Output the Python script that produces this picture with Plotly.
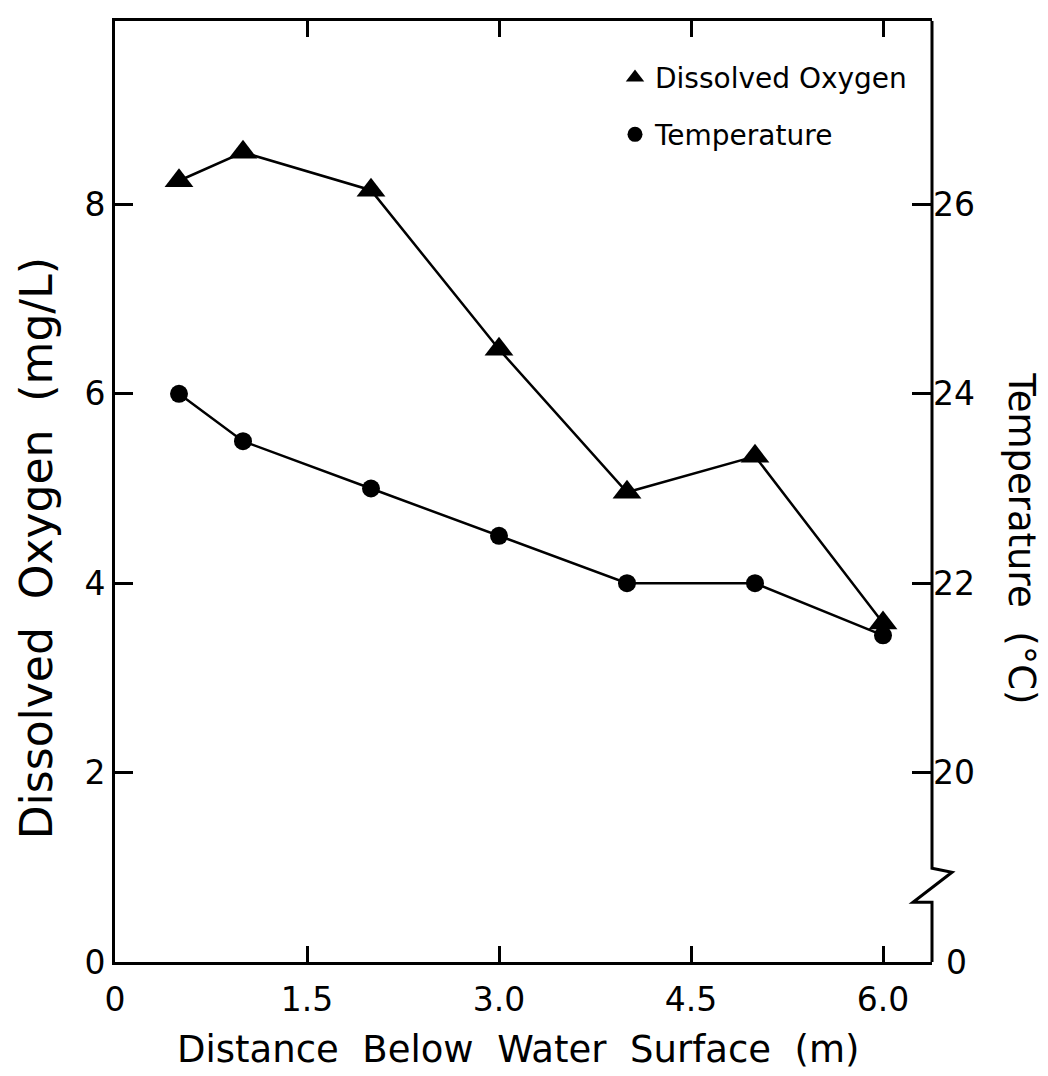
import plotly.graph_objects as go

depth = [0.5, 1.0, 2.0, 3.0, 4.0, 5.0, 6.0]
dissolved_oxygen = [8.25, 8.55, 8.15, 6.47, 4.96, 5.34, 3.58]
temperature = [24.0, 23.5, 23.0, 22.5, 22.0, 22.0, 21.45]

x_tickvals = [0, 1.5, 3.0, 4.5, 6.0]
x_ticktext = ["0", "1.5", "3.0", "4.5", "6.0"]
do_tickvals = [0, 2, 4, 6, 8]
temp_tickvals = [20, 22, 24, 26]

FONT = "DejaVu Sans"
OFF = 8  # page body margin
W, H = 1048 - OFF, 1076 - OFF
L, R, T, B = 115, 932, 18, 962  # plot area in reference pixels

def px(x):
    return (x - L) / (R - L)

def py(y):
    return (B - y) / (B - T)

fig = go.Figure()
fig.add_trace(go.Scatter(x=depth, y=dissolved_oxygen, mode="lines+markers",
                         line=dict(color="black", width=2.5),
                         marker=dict(symbol="triangle-up", size=25, color="black"),
                         showlegend=False, cliponaxis=False))
fig.add_trace(go.Scatter(x=depth, y=temperature, mode="lines+markers", yaxis="y2",
                         line=dict(color="black", width=2.5),
                         marker=dict(symbol="circle", size=18, color="black"),
                         showlegend=False, cliponaxis=False))
# legend entries (markers only)
fig.add_trace(go.Scatter(x=[None], y=[None], mode="markers", name="Dissolved Oxygen",
                         marker=dict(symbol="triangle-up", size=18, color="black"),
                         legend="legend"))
fig.add_trace(go.Scatter(x=[None], y=[None], mode="markers", name="Temperature",
                         marker=dict(symbol="circle", size=15, color="black"),
                         legend="legend2"))

axis_font = dict(family=FONT, size=33, color="black")

fig.update_layout(
    width=W, height=H,
    margin=dict(l=L - OFF, r=W - (R - OFF), t=T - OFF, b=H - (B - OFF)),
    plot_bgcolor="white", paper_bgcolor="white",
    font=dict(family=FONT, color="black"),
    xaxis=dict(range=[0, (R - L) / 128.0], tickvals=x_tickvals, ticktext=x_ticktext,
               ticks="inside", ticklen=16, tickwidth=2.5, tickcolor="black",
               showline=True, linecolor="black", linewidth=3, mirror="ticks",
               showgrid=False, zeroline=False, tickfont=axis_font,
               ticklabelstandoff=6),
    yaxis=dict(range=[0, (B - T) / 95.0], tickvals=do_tickvals,
               ticks="inside", ticklen=18, tickwidth=2.5, tickcolor="black",
               showline=True, linecolor="black", linewidth=3, mirror=False,
               showgrid=False, zeroline=False, tickfont=axis_font),
    yaxis2=dict(range=[18, 18 + (B - T) / 95.0], tickvals=temp_tickvals,
                overlaying="y", side="right",
                ticks="inside", ticklen=20, tickwidth=2.5, tickcolor="black",
                showline=False, showgrid=False, zeroline=False, tickfont=axis_font),
    legend=dict(x=px(615), y=py(75), xanchor="left", yanchor="middle",
                font=dict(family=FONT, size=28), bgcolor="rgba(0,0,0,0)"),
    legend2=dict(x=px(615), y=py(132), xanchor="left", yanchor="middle",
                 font=dict(family=FONT, size=28), bgcolor="rgba(0,0,0,0)"),
)

# right axis line with break
pts = [(R, T), (R, 868), (952, 872), (913, 902), (R, 902), (R, B)]
path = "M " + " L ".join(f"{px(x)},{py(y)}" for x, y in pts)
fig.add_shape(type="path", path=path, xref="paper", yref="paper",
              line=dict(color="black", width=3))

# right axis "0" label
fig.add_annotation(x=px(944), y=py(962), xref="paper", yref="paper", text="0",
                   showarrow=False, xanchor="left", yanchor="middle", font=axis_font)

# axis titles
fig.add_annotation(x=px(36), y=py(547), xref="paper", yref="paper",
                   text="Dissolved  Oxygen  (mg/L)", textangle=-90, showarrow=False,
                   xanchor="center", yanchor="middle",
                   font=dict(family=FONT, size=44, color="black"))
fig.add_annotation(x=px(1022), y=py(537), xref="paper", yref="paper",
                   text="Temperature  (°C)", textangle=90, showarrow=False,
                   xanchor="center", yanchor="middle",
                   font=dict(family=FONT, size=37, color="black"))
fig.add_annotation(x=px(518), y=py(1050), xref="paper", yref="paper",
                   text="Distance  Below  Water  Surface  (m)", showarrow=False,
                   xanchor="center", yanchor="middle",
                   font=dict(family=FONT, size=37, color="black"))

fig.write_html("out.html")
